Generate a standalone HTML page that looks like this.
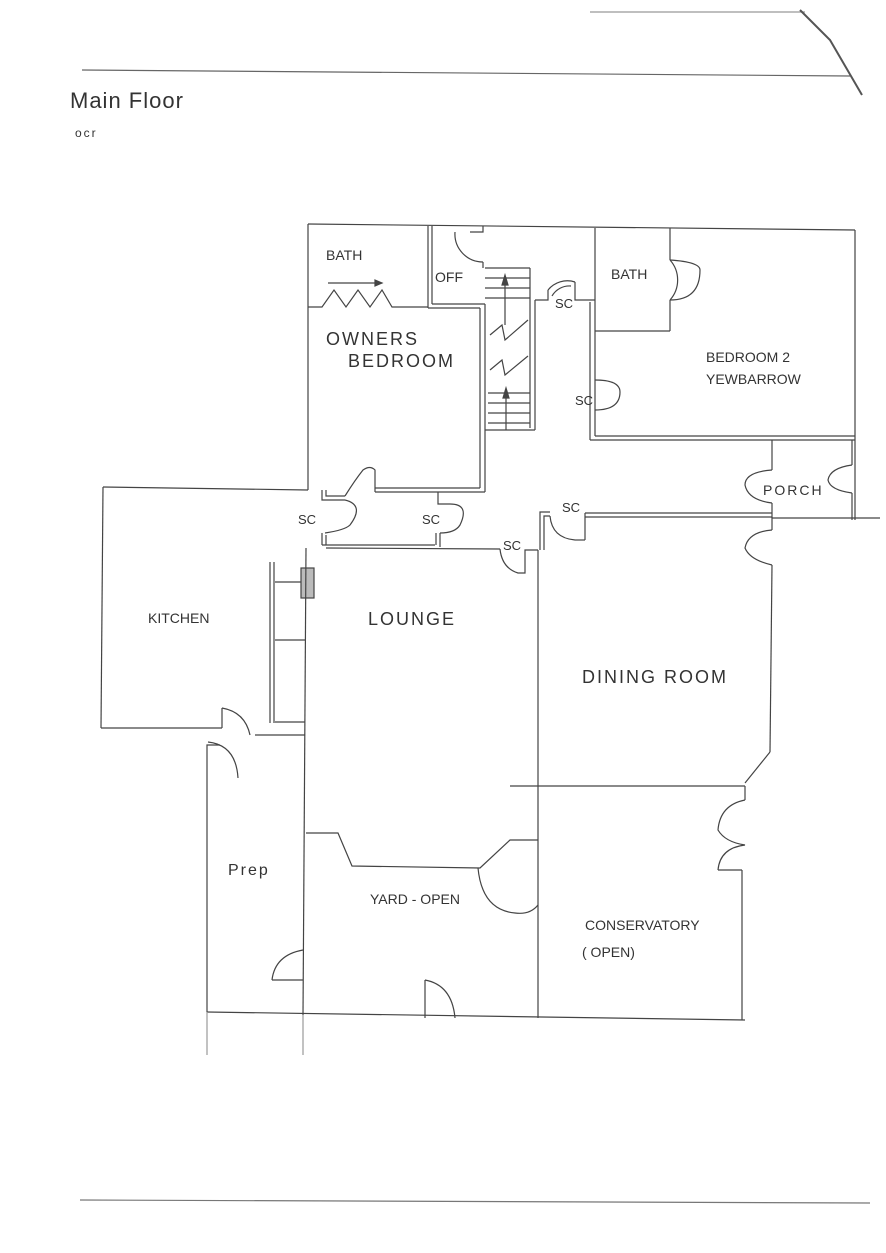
<!DOCTYPE html>
<html><head><meta charset="utf-8"><style>
html,body{margin:0;padding:0;background:#fff;}
svg{display:block}
text{font-family:"Liberation Sans",sans-serif;fill:#333}
</style></head><body>
<svg width="886" height="1253" viewBox="0 0 886 1253" xmlns="http://www.w3.org/2000/svg">
<g stroke="#444" stroke-width="1.2" fill="none">
<!-- page marks -->
<line x1="82" y1="70" x2="850" y2="76" stroke="#666"/>
<line x1="590" y1="12" x2="805" y2="12" stroke="#999"/>
<polyline points="800,10 830,40 862,95" stroke="#555" stroke-width="2"/>
<line x1="80" y1="1200" x2="870" y2="1203" stroke="#777"/>

<!-- top outer -->
<line x1="308" y1="224" x2="855" y2="230"/>
<line x1="308" y1="224" x2="308" y2="490"/>
<line x1="855" y1="230" x2="855" y2="520"/>
<!-- owner bath -->
<polyline points="308,307 322,307 334,290 346,307 358,290 370,307 382,290 392,307 428,307"/>
<line x1="328" y1="283" x2="375" y2="283"/>
<polygon points="375,280 382,283 375,286" fill="#444"/>
<!-- OFF -->
<line x1="428" y1="226" x2="428" y2="308"/>
<line x1="432" y1="226" x2="432" y2="304"/>
<line x1="432" y1="304" x2="485" y2="304"/>
<line x1="428" y1="308" x2="480" y2="308"/>
<polyline points="483,226 483,232 470,232"/>
<path d="M455,232 A28,28 0 0 0 483,262"/>
<line x1="483" y1="262" x2="483" y2="268"/>
<!-- owners bedroom right wall -->
<line x1="480" y1="308" x2="480" y2="488"/>
<line x1="485" y1="304" x2="485" y2="492"/>
<line x1="375" y1="492" x2="485" y2="492"/>
<line x1="375" y1="488" x2="480" y2="488"/>
<!-- stairs -->
<line x1="485" y1="268" x2="530" y2="268"/>
<line x1="530" y1="268" x2="530" y2="428"/>
<line x1="535" y1="300" x2="535" y2="430"/>
<line x1="485" y1="430" x2="535" y2="430"/>
<line x1="485" y1="278" x2="530" y2="278"/>
<line x1="485" y1="288" x2="530" y2="288"/>
<line x1="485" y1="298" x2="530" y2="298"/>
<line x1="488" y1="393" x2="530" y2="393"/>
<line x1="488" y1="403" x2="530" y2="403"/>
<line x1="488" y1="413" x2="530" y2="413"/>
<line x1="488" y1="423" x2="530" y2="423"/>
<polyline points="490,335 502,325 505,340 528,320"/>
<polyline points="490,370 502,360 505,375 528,356"/>
<line x1="505" y1="300" x2="505" y2="325"/><polygon points="502,285 505,275 508,285" fill="#444"/><line x1="505" y1="285" x2="505" y2="300"/>
<line x1="506" y1="395" x2="506" y2="430"/><polygon points="503,398 506,388 509,398" fill="#444"/>
<!-- SC near stairs -->
<polyline points="535,300 548,300 548,290"/>
<path d="M548,290 A25,25 0 0 1 575,282"/>
<polyline points="575,282 575,300 595,300"/>
<path d="M552,296 A20,20 0 0 1 571,286"/>
<!-- right bath & bedroom2 -->
<line x1="590" y1="302" x2="590" y2="440"/>
<line x1="595" y1="228" x2="595" y2="436"/>
<line x1="595" y1="331" x2="670" y2="331"/>
<line x1="670" y1="228" x2="670" y2="260"/>
<line x1="670" y1="300" x2="670" y2="331"/>
<path d="M670,260 A30,30 0 0 1 670,300" transform="translate(0,0)"/>
<path d="M670,260 Q700,262 700,270 Q700,300 670,300"/>
<path d="M595,380 Q620,380 620,392 Q620,410 595,410"/>
<line x1="590" y1="440" x2="855" y2="440"/>
<line x1="595" y1="436" x2="855" y2="436"/>
<!-- porch -->
<line x1="772" y1="440" x2="772" y2="470"/>
<path d="M772,470 Q745,472 745,485 Q748,500 772,503"/>
<line x1="772" y1="503" x2="772" y2="518"/>
<line x1="852" y1="440" x2="852" y2="465"/>
<path d="M852,465 Q830,468 828,480 Q830,490 852,493"/>
<line x1="852" y1="493" x2="852" y2="520"/>
<line x1="772" y1="518" x2="880" y2="518"/>
<!-- corridor south wall -->
<line x1="585" y1="513" x2="772" y2="513"/>
<line x1="585" y1="517" x2="772" y2="517"/>
<polyline points="540,550 540,512 550,512"/>
<polyline points="544,550 544,516 550,516"/>
<path d="M550,516 Q552,538 575,540"/>
<line x1="575" y1="540" x2="585" y2="540"/>
<line x1="585" y1="513" x2="585" y2="540"/>
<!-- dining room -->
<line x1="772" y1="517" x2="772" y2="530"/>
<path d="M772,530 Q748,532 745,548 Q750,560 772,565"/>
<line x1="772" y1="565" x2="770" y2="752"/>
<line x1="770" y1="752" x2="745" y2="783"/>
<line x1="538" y1="550" x2="538" y2="1018"/>
<line x1="510" y1="786" x2="745" y2="786"/>
<!-- SC cluster above lounge -->
<line x1="103" y1="487" x2="308" y2="490"/>
<polyline points="322,490 322,500 345,500"/>
<polyline points="326,490 326,496 345,496"/>
<path d="M345,500 Q365,505 350,525 Q345,530 325,533"/>
<path d="M345,496 Q355,480 363,470 Q370,465 375,470 L375,492"/>
<line x1="322" y1="533" x2="322" y2="545"/><line x1="326" y1="535" x2="326" y2="545"/>
<line x1="322" y1="545" x2="435" y2="545"/>
<line x1="326" y1="548" x2="500" y2="549"/>
<polyline points="438,492 438,504 450,504"/>
<path d="M450,504 Q470,504 460,525 Q455,533 440,533"/>
<line x1="436" y1="533" x2="436" y2="545"/><line x1="440" y1="533" x2="440" y2="547"/>
<path d="M500,549 Q502,568 518,573 L525,573 L525,550 L538,550"/>
<!-- kitchen -->
<line x1="103" y1="487" x2="101" y2="728"/>
<line x1="101" y1="728" x2="222" y2="728"/>
<line x1="222" y1="728" x2="222" y2="708"/>
<path d="M222,708 Q245,712 250,735"/>
<line x1="255" y1="735" x2="305" y2="735"/>
<!-- pantry strip -->
<line x1="270" y1="562" x2="270" y2="723"/><line x1="274" y1="562" x2="274" y2="723"/>
<line x1="275" y1="582" x2="305" y2="582"/><line x1="275" y1="640" x2="305" y2="640"/>
<line x1="275" y1="722" x2="305" y2="722"/>
<rect x="301" y="568" width="13" height="30" fill="#bbb"/>
<!-- lounge west wall -->
<line x1="306" y1="548" x2="303" y2="1015"/>
<!-- Prep -->
<polyline points="207,776 207,745 220,745"/>
<path d="M208,742 Q236,745 238,778"/>
<line x1="207" y1="776" x2="207" y2="1012"/>
<line x1="207" y1="1012" x2="745" y2="1020"/>
<line x1="207" y1="1012" x2="207" y2="1055" stroke="#999"/>
<line x1="303" y1="1015" x2="303" y2="1055" stroke="#999"/>
<!-- lounge/yard divider -->
<polyline points="306,833 338,833 352,866 480,868 510,840 538,840"/>
<path d="M478,868 Q482,910 515,913 Q530,915 538,905"/>
<!-- yard doors -->
<path d="M303,950 Q275,955 272,980"/>
<line x1="272" y1="980" x2="303" y2="980"/>
<line x1="425" y1="1018" x2="425" y2="980"/>
<path d="M425,980 Q452,985 455,1018"/>
<!-- conservatory -->
<line x1="745" y1="786" x2="745" y2="800"/>
<path d="M745,800 Q720,805 718,830 Q725,842 745,845 Q720,848 718,870"/>
<line x1="718" y1="870" x2="742" y2="870"/>
<line x1="742" y1="870" x2="742" y2="1020"/>
</g>
<g font-size="14">
<text x="326" y="260">BATH</text>
<text x="435" y="282">OFF</text>
<text x="611" y="279">BATH</text>
<text x="706" y="362">BEDROOM 2</text>
<text x="706" y="384">YEWBARROW</text>
<text x="555" y="308" font-size="13">SC</text>
<text x="575" y="405" font-size="13">SC</text>
<text x="298" y="524" font-size="13">SC</text>
<text x="422" y="524" font-size="13">SC</text>
<text x="562" y="512" font-size="13">SC</text>
<text x="503" y="550" font-size="13">SC</text>
<text x="148" y="623">KITCHEN</text>
<text x="370" y="904">YARD - OPEN</text>
<text x="585" y="930">CONSERVATORY</text>
<text x="582" y="957">( OPEN)</text>
</g>
<g font-size="18" fill="#333" letter-spacing="2">
<text x="326" y="345">OWNERS</text>
<text x="348" y="367">BEDROOM</text>
<text x="368" y="625">LOUNGE</text>
<text x="582" y="683">DINING ROOM</text>
<text x="228" y="875" font-size="16">Prep</text>
<text x="763" y="495" font-size="14">PORCH</text>
<text x="70" y="108" font-size="22" letter-spacing="1">Main Floor</text>
<text x="75" y="137" font-size="12" fill="#888">ocr</text>
</g>
</svg>
</body></html>
